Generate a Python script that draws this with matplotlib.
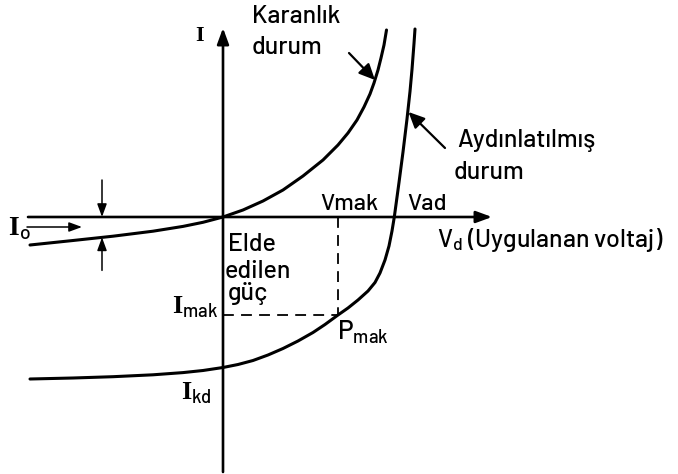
import matplotlib
matplotlib.use("Agg")
import matplotlib.pyplot as plt
import numpy as np

# I-V characteristic of a solar cell, dark vs. illuminated.
# Voltage / current in drawing units, origin where the axes cross.
dark_v = [-193, -150, -110, -70, -40, -20, 0, 20, 40, 60, 80, 100, 115,
          125, 134, 141, 147, 151, 155, 158, 161, 163.5]
dark_i = [-28, -23.5, -19.2, -14.2, -9.4, -5.3, 0, 7, 16, 27, 41, 57, 72,
          84, 97, 110, 123, 134, 147, 159, 172, 187]

light_v = [-193, -150, -110, -70, -40, -20, 0, 15, 30, 45, 60, 75, 90, 102, 115,
           125, 135, 145, 152, 157, 162, 166, 169, 171.3, 176, 180, 184, 187,
           189, 191, 192]
light_i = [-162, -161, -159.7, -157.8, -155.6, -153.5, -150.5, -147.5, -143.5,
           -138, -131.5, -124, -115.5, -107.5, -98, -91, -83, -74, -65.5, -56,
           -43, -29, -14, 0, 34.5, 65, 98, 125.5, 147.5, 173.5, 188]

V_MAK = 115     # voltage at max power point
I_MAK = -98     # current at max power point
I_O_V = -121    # where the I_o gap is marked

FONT = ["Barlow", "DejaVu Sans"]
plt.rcParams["font.family"] = FONT
plt.rcParams["font.weight"] = 500
plt.rcParams["mathtext.fontset"] = "custom"
plt.rcParams["mathtext.rm"] = "Barlow:medium"
plt.rcParams["mathtext.sf"] = "Liberation Serif:bold"

fig = plt.figure(figsize=(6.78, 4.74), dpi=100)
ax = fig.add_axes([0, 0, 1, 1])
ax.set_xlim(-223, 455)
ax.set_ylim(-257, 217)
ax.axis("off")

K = "black"
FS = 18


def arrow(start, end, lw=1.8, hl=0.6, hw=0.22, ms=16):
    ax.annotate("", xy=end, xytext=start,
                arrowprops=dict(arrowstyle=f"-|>,head_length={hl},head_width={hw}",
                                mutation_scale=ms, lw=lw, color=K,
                                shrinkA=0, shrinkB=0))


# axes
arrow((-195, 0), (269, 0), lw=1.9)
arrow((0, -255), (0, 189), lw=1.9)

# curves
ax.plot(dark_v, dark_i, color=K, lw=2.2, solid_capstyle="round", solid_joinstyle="round")
ax.plot(light_v, light_i, color=K, lw=2.2, solid_capstyle="round", solid_joinstyle="round")

# max power rectangle
ax.plot([V_MAK, V_MAK], [0, I_MAK], color=K, lw=1.3, ls=(0, (6, 4)))
ax.plot([0, V_MAK], [I_MAK, I_MAK], color=K, lw=1.3, ls=(0, (6, 4)))

# I_o gap marks: axis down to the dark curve
gap_low = np.interp(I_O_V, dark_v, dark_i)
arrow((I_O_V, 37), (I_O_V, 0), lw=1.1, ms=13)
arrow((I_O_V, gap_low - 33), (I_O_V, gap_low), lw=1.1, ms=13)
arrow((-196, -10), (-141, -10), lw=1.1, ms=13)

# pointers to curves
arrow((126, 164), (152, 137), lw=1.6, ms=16, hw=0.28)
arrow((222, 69), (185.5, 105), lw=1.6, ms=16, hw=0.28)

# labels
ax.text(-23, 182, r"$\mathsf{I}$", fontsize=16, ha="center", va="center")
ax.text(29, 201, "Karanlık", fontsize=FS, va="center")
ax.text(29, 170, "durum", fontsize=FS, va="center")
ax.text(234, 77, "Aydınlatılmış", fontsize=FS, va="center")
ax.text(231, 45, "durum", fontsize=FS, va="center")
ax.text(97, 7, "Vmak", fontsize=FS - 1, va="baseline")
ax.text(184, 7, "Vad", fontsize=FS - 1, va="baseline")
ax.text(214, -30, r"$\mathrm{V_d}$ (Uygulanan voltaj)", fontsize=FS, va="baseline")
ax.text(5, -34, "Elde", fontsize=FS, va="baseline")
ax.text(2, -61, "edilen", fontsize=FS, va="baseline")
ax.text(5, -83, "güç", fontsize=FS, va="baseline")
ax.text(-5, -96, r"$\mathsf{I}_{\mathrm{mak}}$", fontsize=FS + 1, ha="right", va="baseline")
ax.text(114, -123, r"$\mathrm{P_{mak}}$", fontsize=FS + 1, va="baseline")
ax.text(-11, -183, r"$\mathsf{I}_{\mathrm{kd}}$", fontsize=FS + 1, ha="right", va="baseline")
ax.text(-215, -18, r"$\mathsf{I}_{\mathrm{o}}$", fontsize=FS + 2, va="baseline")

fig.savefig("out.png", dpi=100, facecolor="white")
